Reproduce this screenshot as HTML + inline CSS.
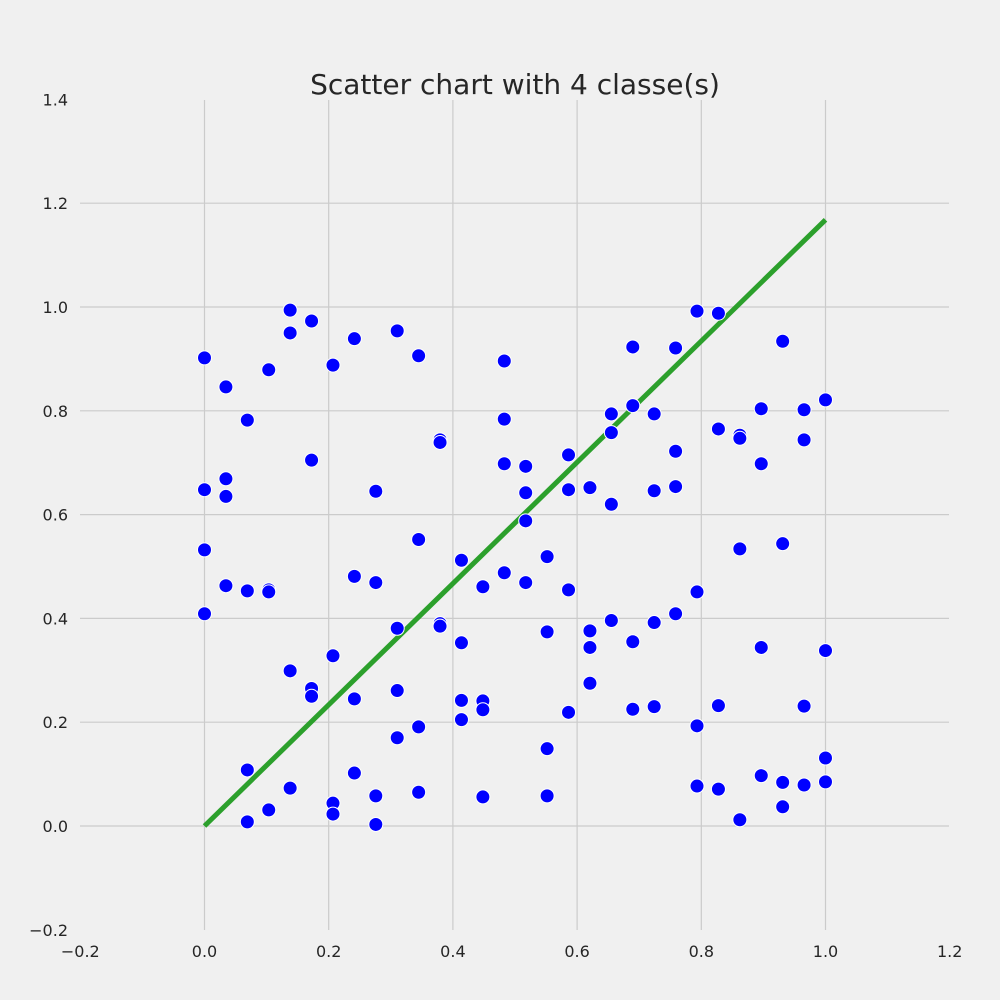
<!DOCTYPE html>
<html><head><meta charset="utf-8">
<style>
html,body{margin:0;padding:0;background:#f0f0f0;}
svg{display:block;font-family:"DejaVu Sans","Liberation Sans",sans-serif;}
</style></head>
<body>
<svg id="chart" width="1000" height="1000">
<rect width="1000" height="1000" fill="#f0f0f0"/>
<text x="515" y="94" text-anchor="middle" font-size="28" fill="#262626">Scatter chart with 4 classe(s)</text>
<g id="grid"></g><g id="ticks"></g><g id="line"></g><g id="points"></g>
</svg>
<script>
const xTicks = [-0.2,0.0,0.2,0.4,0.6,0.8,1.0,1.2];
const yTicks = [-0.2,0.0,0.2,0.4,0.6,0.8,1.0,1.2,1.4];
const yCols = [
[0.902,0.532,0.409,0.648],[0.846,0.669,0.635,0.463],[0.782,0.453,0.108,0.008],
[0.879,0.455,0.451,0.031],[0.994,0.950,0.299,0.073],[0.973,0.705,0.265,0.250],
[0.888,0.328,0.044,0.023],[0.939,0.481,0.245,0.102],[0.645,0.469,0.058,0.003],
[0.954,0.381,0.261,0.170],[0.906,0.552,0.191,0.065],[0.744,0.739,0.390,0.385],
[0.512,0.353,0.242,0.205],[0.461,0.241,0.224,0.056],[0.896,0.784,0.698,0.488],
[0.693,0.642,0.588,0.469],[0.519,0.374,0.149,0.058],[0.715,0.648,0.455,0.219],
[0.652,0.376,0.344,0.275],[0.794,0.758,0.620,0.396],[0.923,0.810,0.355,0.225],
[0.794,0.646,0.392,0.230],[0.921,0.722,0.654,0.409],[0.992,0.451,0.193,0.077],
[0.988,0.765,0.232,0.071],[0.753,0.747,0.534,0.012],[0.804,0.698,0.344,0.097],
[0.934,0.544,0.084,0.037],[0.802,0.744,0.231,0.079],[0.821,0.338,0.131,0.085]
];
const xVals = yCols.map((c,i)=>i/29);
const lineX = [0,1];
const lineY = [0,1.168];
const NS="http://www.w3.org/2000/svg";
const X = v => 204.5 + v*621;
const Y = v => 826 - v*519;
function mk(tag, attrs, parent){const e=document.createElementNS(NS,tag);for(const k in attrs)e.setAttribute(k,attrs[k]);parent.appendChild(e);return e;}
const grid=document.getElementById('grid'), ticks=document.getElementById('ticks');
xTicks.forEach(t=>{
  if(t>-0.2&&t<1.2){const l=mk('line',{x1:X(t),x2:X(t),y1:100,y2:930,stroke:'#cbcbcb','stroke-width':1.2},grid);
  
  }
  const tx=mk('text',{x:X(t),y:957,'text-anchor':'middle','font-size':16,fill:'#262626'},ticks);
  tx.textContent=(t<0?'\u2212':'')+Math.abs(t).toFixed(1);
  
  
});
yTicks.forEach(t=>{
  if(t>-0.2&&t<1.4){const l=mk('line',{x1:80,x2:949,y1:Y(t),y2:Y(t),stroke:'#cbcbcb','stroke-width':1.2},grid);
  
  }
  const tx=mk('text',{x:68,y:Y(t)+6,'text-anchor':'end','font-size':16,fill:'#262626'},ticks);
  tx.textContent=(t<0?'\u2212':'')+Math.abs(t).toFixed(1);
  
  
});
const ln=mk('line',{x1:X(lineX[0]),y1:Y(lineY[0]),x2:X(lineX[1]),y2:Y(lineY[1]),stroke:'#2ca02c','stroke-width':5},document.getElementById('line'));


const pts=document.getElementById('points');
yCols.forEach((col,i)=>col.forEach(v=>{
  const c=mk('circle',{cx:X(xVals[i]),cy:Y(v),r:7,fill:'#0000ff',stroke:'#ffffff','stroke-width':1},pts);
  
  
}));
</script>
</body></html>
